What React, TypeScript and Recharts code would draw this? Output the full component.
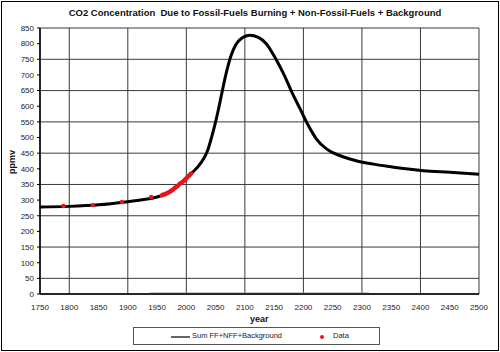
import React from "react";
import { ComposedChart, Line, Scatter, XAxis, YAxis, CartesianGrid } from "recharts";

const lineYears = [1750, 1800, 1850, 1900, 1925, 1950, 1975, 2000, 2010, 2020, 2030, 2037, 2043, 2050, 2056, 2061, 2068, 2076, 2085, 2095, 2108, 2123, 2137, 2151, 2166, 2180, 2194, 2208, 2222, 2240, 2252, 2270, 2290, 2320, 2348, 2375, 2405, 2450, 2500];
const lineValues = [278, 280, 285, 295, 301, 310, 330, 370, 388, 407, 434, 462, 500, 550, 600, 645, 705, 760, 798, 818, 827, 820, 799, 757, 704, 646, 593, 540, 496, 463, 450, 437, 426, 415, 407, 400, 394, 389, 383];

const dataYears = [1790, 1840, 1890, 1940, 1958, 1960, 1962, 1964, 1966, 1968, 1970, 1972, 1974, 1976, 1978, 1980, 1982, 1984, 1986, 1988, 1990, 1992, 1994, 1996, 1998, 2000, 2002, 2004, 2006, 2008];
const dataValues = [281, 284, 294, 310, 315, 317, 318, 319, 321, 323, 325, 327, 330, 332, 335, 339, 341, 344, 347, 351, 354, 356, 359, 362, 366, 369, 373, 377, 381, 385];

const lowYears = [1938, 2000, 2100, 2200, 2312];
const lowValues = [2, 2, 2, 2, 2];

const xTicks = [1750, 1800, 1850, 1900, 1950, 2000, 2050, 2100, 2150, 2200, 2250, 2300, 2350, 2400, 2450, 2500];
const yTicks = [0, 50, 100, 150, 200, 250, 300, 350, 400, 450, 500, 550, 600, 650, 700, 750, 800, 850];

const title = "CO2 Concentration  Due to Fossil-Fuels Burning + Non-Fossil-Fuels + Background";
const seriesName = "Sum FF+NFF+Background";
const dataName = "Data";

const lineData = lineYears.map((y, i) => ({ year: y, ppmv: lineValues[i] }));
const pointData = dataYears.map((y, i) => ({ year: y, ppmv: dataValues[i] }));
const lowData = lowYears.map((y, i) => ({ year: y, ppmv: lowValues[i] }));

const font = "'Liberation Sans', Arial, sans-serif";

const Dot = (props: any) => {
  const { cx, cy } = props;
  return <circle cx={cx} cy={cy} r={2.2} fill="#e8141c" />;
};

export default function App() {
  return (
    <div style={{ position: "absolute", left: 0, top: 0, width: 500, height: 352, background: "#fff", fontFamily: font }}>
      <ComposedChart width={500} height={352} margin={{ top: 28, right: 21, left: 0, bottom: 38 }}>
        <CartesianGrid stroke="#3a3a3a" strokeWidth={1} />
        <XAxis
          type="number"
          dataKey="year"
          domain={[1750, 2500]}
          ticks={xTicks}
          allowDataOverflow
          height={20}
          tickLine={false}
          tickMargin={4}
          axisLine={{ stroke: "#000", strokeWidth: 1.5 }}
          tick={{ fontSize: 8, fill: "#222", fontFamily: font }}
        />
        <YAxis
          type="number"
          dataKey="ppmv"
          domain={[0, 850]}
          ticks={yTicks}
          allowDataOverflow
          width={40}
          tickSize={3}
          tickMargin={3}
          tickLine={{ stroke: "#000" }}
          axisLine={{ stroke: "#000", strokeWidth: 1.5 }}
          tick={{ fontSize: 8, fill: "#222", fontFamily: font }}
        />
        <Line data={lowData} dataKey="ppmv" type="linear" stroke="#9a9a9a" strokeWidth={1.5} dot={false} isAnimationActive={false} />
        <Line data={lineData} dataKey="ppmv" type="monotone" stroke="#000" strokeWidth={3} dot={false} isAnimationActive={false} />
        <Scatter data={pointData} dataKey="ppmv" shape={<Dot />} isAnimationActive={false} />
      </ComposedChart>

      <div style={{ position: "absolute", left: 1, top: 1, width: 498, height: 350, boxSizing: "border-box", border: "1.5px solid #000", pointerEvents: "none" }} />

      <div style={{ position: "absolute", left: 0, top: 7, width: 510, textAlign: "center", fontSize: 9.5, fontWeight: "bold", color: "#111", whiteSpace: "pre" }}>
        {title}
      </div>

      <div style={{ position: "absolute", left: 12, top: 162, transform: "translate(-50%, -50%) rotate(-90deg)", fontSize: 9, fontWeight: "bold", color: "#111" }}>
        ppmv
      </div>

      <div style={{ position: "absolute", left: 250, top: 314, fontSize: 9, fontWeight: "bold", color: "#111" }}>
        year
      </div>

      <div style={{ position: "absolute", left: 133, top: 327, width: 247, height: 18, boxSizing: "border-box", border: "1px solid #555", fontSize: 7.5, color: "#222" }}>
        <div style={{ position: "absolute", left: 37, top: 8, width: 19, height: 1.5, background: "#666" }} />
        <div style={{ position: "absolute", left: 58, top: 3 }}>{seriesName}</div>
        <div style={{ position: "absolute", left: 186, top: 7, width: 4, height: 4, borderRadius: 2, background: "#e8141c" }} />
        <div style={{ position: "absolute", left: 199, top: 3 }}>{dataName}</div>
      </div>
    </div>
  );
}
